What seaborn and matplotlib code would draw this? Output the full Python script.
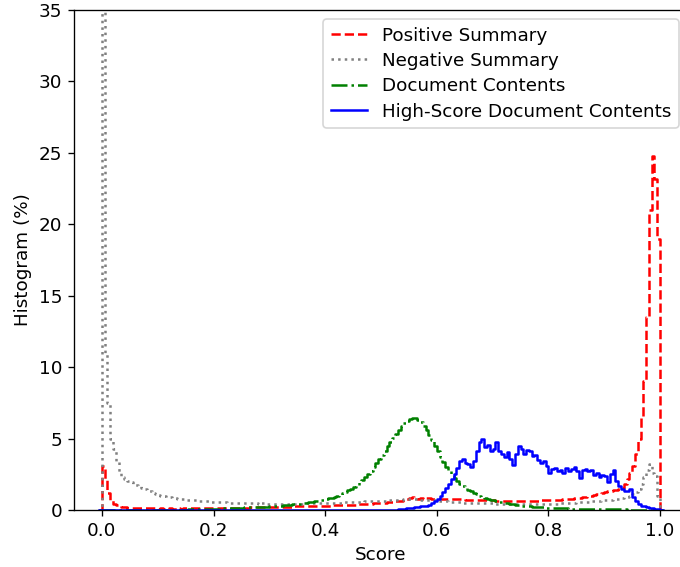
import numpy as np
import pandas as pd
import matplotlib
matplotlib.use("Agg")
import matplotlib.pyplot as plt
import seaborn as sns

# histogram heights (%), one value per 0.005-wide score bin (0.0 -> 1.0)
positive_summary = [
    3.1, 2.1, 1.2, 0.7, 0.45, 0.33, 0.26, 0.22, 0.19, 0.17,
    0.16, 0.15, 0.14, 0.13, 0.13, 0.12, 0.12, 0.11, 0.11, 0.11,
    0.1, 0.11, 0.1, 0.1, 0.11, 0.1, 0.1, 0.11, 0.1, 0.11,
    0.11, 0.11, 0.12, 0.11, 0.12, 0.12, 0.12, 0.13, 0.12, 0.13,
    0.13, 0.13, 0.14, 0.14, 0.14, 0.15, 0.15, 0.15, 0.16, 0.16,
    0.16, 0.17, 0.17, 0.18, 0.18, 0.18, 0.19, 0.19, 0.2, 0.2,
    0.2, 0.21, 0.21, 0.22, 0.22, 0.23, 0.23, 0.24, 0.24, 0.25,
    0.25, 0.26, 0.26, 0.27, 0.27, 0.28, 0.28, 0.29, 0.29, 0.3,
    0.3, 0.31, 0.32, 0.32, 0.33, 0.34, 0.35, 0.35, 0.36, 0.37,
    0.38, 0.39, 0.4, 0.41, 0.42, 0.43, 0.44, 0.46, 0.47, 0.48,
    0.5, 0.52, 0.54, 0.56, 0.58, 0.6, 0.62, 0.64, 0.68, 0.75,
    0.85, 0.88, 0.82, 0.8, 0.82, 0.8, 0.81, 0.82, 0.8, 0.8,
    0.79, 0.8, 0.78, 0.77, 0.78, 0.76, 0.75, 0.76, 0.74, 0.74,
    0.73, 0.72, 0.72, 0.71, 0.7, 0.7, 0.69, 0.69, 0.68, 0.68,
    0.67, 0.66, 0.66, 0.65, 0.65, 0.64, 0.64, 0.63, 0.64, 0.63,
    0.63, 0.63, 0.64, 0.64, 0.65, 0.65, 0.66, 0.67, 0.67, 0.68,
    0.69, 0.7, 0.71, 0.72, 0.73, 0.75, 0.76, 0.78, 0.8, 0.82,
    0.84, 0.87, 0.9, 0.93, 0.97, 1.0, 1.05, 1.1, 1.15, 1.2,
    1.25, 1.3, 1.33, 1.37, 1.4, 1.45, 1.55, 1.8, 2.2, 2.6,
    3.1, 3.9, 5.0, 6.5, 9.0, 13.5, 21.0, 24.8, 23.2, 19.0,
]

negative_summary = [
    45.0, 11.0, 7.5, 5.0, 4.3, 3.4, 2.6, 2.3, 2.15, 2.05,
    1.95, 1.85, 1.75, 1.65, 1.55, 1.5, 1.4, 1.3, 1.2, 1.15,
    1.05, 1.0, 0.95, 0.9, 0.88, 0.85, 0.82, 0.8, 0.78, 0.75,
    0.72, 0.7, 0.7, 0.68, 0.66, 0.64, 0.62, 0.6, 0.6, 0.58,
    0.57, 0.56, 0.55, 0.55, 0.54, 0.52, 0.52, 0.5, 0.5, 0.5,
    0.49, 0.48, 0.5, 0.47, 0.46, 0.46, 0.45, 0.46, 0.44, 0.44,
    0.43, 0.44, 0.43, 0.42, 0.43, 0.42, 0.43, 0.44, 0.43, 0.44,
    0.44, 0.45, 0.45, 0.46, 0.46, 0.47, 0.47, 0.48, 0.48, 0.49,
    0.48, 0.5, 0.5, 0.51, 0.52, 0.52, 0.53, 0.54, 0.55, 0.55,
    0.56, 0.57, 0.58, 0.58, 0.6, 0.6, 0.61, 0.62, 0.63, 0.64,
    0.65, 0.66, 0.68, 0.68, 0.7, 0.7, 0.72, 0.72, 0.74, 0.75,
    0.75, 0.76, 0.74, 0.73, 0.72, 0.71, 0.7, 0.7, 0.68, 0.67,
    0.66, 0.64, 0.62, 0.6, 0.58, 0.57, 0.56, 0.54, 0.53, 0.52,
    0.51, 0.5, 0.5, 0.49, 0.48, 0.48, 0.47, 0.47, 0.46, 0.46,
    0.45, 0.45, 0.45, 0.44, 0.44, 0.44, 0.43, 0.43, 0.43, 0.43,
    0.42, 0.42, 0.42, 0.42, 0.42, 0.42, 0.42, 0.42, 0.43, 0.43,
    0.43, 0.44, 0.44, 0.45, 0.46, 0.47, 0.48, 0.49, 0.5, 0.52,
    0.53, 0.54, 0.56, 0.57, 0.58, 0.6, 0.62, 0.63, 0.65, 0.67,
    0.69, 0.71, 0.73, 0.75, 0.78, 0.8, 0.83, 0.88, 0.93, 1.0,
    1.1, 1.25, 1.5, 1.85, 2.3, 2.8, 3.2, 2.6, 2.35, 1.0,
]

document_contents = [
    0.0, 0.0, 0.0, 0.0, 0.0, 0.0, 0.0, 0.0, 0.0, 0.0,
    0.0, 0.0, 0.0, 0.0, 0.0, 0.0, 0.0, 0.0, 0.0, 0.0,
    0.01, 0.01, 0.01, 0.01, 0.02, 0.02, 0.02, 0.02, 0.03, 0.03,
    0.03, 0.04, 0.04, 0.05, 0.05, 0.06, 0.06, 0.07, 0.08, 0.08,
    0.09, 0.1, 0.1, 0.11, 0.12, 0.12, 0.13, 0.14, 0.15, 0.16,
    0.17, 0.18, 0.18, 0.19, 0.2, 0.2, 0.21, 0.22, 0.23, 0.24,
    0.25, 0.26, 0.28, 0.29, 0.31, 0.33, 0.35, 0.37, 0.39, 0.41,
    0.43, 0.45, 0.48, 0.51, 0.54, 0.57, 0.6, 0.63, 0.67, 0.71,
    0.76, 0.81, 0.87, 0.93, 1.0, 1.08, 1.17, 1.27, 1.38, 1.5,
    1.63, 1.77, 1.93, 2.1, 2.3, 2.52, 2.75, 3.0, 3.27, 3.55,
    3.85, 4.15, 4.45, 4.75, 5.05, 5.35, 5.62, 5.86, 6.06, 6.22,
    6.34, 6.42, 6.42, 6.33, 6.15, 5.9, 5.6, 5.25, 4.88, 4.5,
    4.12, 3.74, 3.38, 3.03, 2.7, 2.45, 2.22, 2.02, 1.85, 1.7,
    1.55, 1.42, 1.3, 1.2, 1.1, 1.01, 0.93, 0.86, 0.79, 0.73,
    0.68, 0.63, 0.58, 0.54, 0.5, 0.46, 0.43, 0.4, 0.37, 0.34,
    0.31, 0.29, 0.27, 0.25, 0.23, 0.22, 0.2, 0.19, 0.18, 0.17,
    0.16, 0.15, 0.14, 0.13, 0.12, 0.12, 0.11, 0.1, 0.1, 0.09,
    0.09, 0.08, 0.08, 0.07, 0.07, 0.07, 0.06, 0.06, 0.06, 0.05,
    0.05, 0.05, 0.05, 0.04, 0.04, 0.04, 0.04, 0.04, 0.03, 0.03,
    0.03, 0.03, 0.03, 0.03, 0.03, 0.02, 0.02, 0.02, 0.02, 0.02,
]

high_score_contents = [
    0.0, 0.0, 0.0, 0.0, 0.0, 0.0, 0.0, 0.0, 0.0, 0.0,
    0.0, 0.0, 0.0, 0.0, 0.0, 0.0, 0.0, 0.0, 0.0, 0.0,
    0.0, 0.0, 0.0, 0.0, 0.0, 0.0, 0.0, 0.0, 0.0, 0.0,
    0.0, 0.0, 0.0, 0.0, 0.0, 0.0, 0.0, 0.0, 0.0, 0.0,
    0.0, 0.0, 0.0, 0.0, 0.0, 0.0, 0.0, 0.0, 0.0, 0.0,
    0.0, 0.0, 0.0, 0.0, 0.0, 0.0, 0.0, 0.0, 0.0, 0.0,
    0.0, 0.0, 0.0, 0.0, 0.0, 0.0, 0.0, 0.0, 0.0, 0.0,
    0.0, 0.0, 0.0, 0.0, 0.0, 0.0, 0.0, 0.0, 0.0, 0.0,
    0.0, 0.0, 0.0, 0.0, 0.0, 0.0, 0.0, 0.0, 0.0, 0.0,
    0.0, 0.0, 0.0, 0.0, 0.0, 0.0, 0.0, 0.0, 0.0, 0.0,
    0.0, 0.0, 0.0, 0.0, 0.0, 0.03, 0.06, 0.08, 0.1, 0.13,
    0.15, 0.17, 0.2, 0.22, 0.25, 0.28, 0.3, 0.38, 0.5, 0.62,
    0.8, 1.0, 1.25, 1.55, 1.85, 2.2, 2.55, 2.95, 3.4, 3.6,
    3.3, 3.2, 3.0, 3.45, 4.1, 4.75, 4.95, 4.4, 4.55, 4.1,
    4.3, 4.75, 4.1, 3.9, 3.7, 4.05, 3.6, 3.15, 3.9, 4.5,
    4.3, 3.95, 4.2, 4.1, 3.75, 3.85, 3.5, 3.3, 3.45, 3.1,
    2.6, 2.9, 2.95, 2.7, 2.8, 2.6, 2.95, 2.75, 2.85, 3.0,
    2.7, 2.25, 2.8, 2.9, 2.7, 2.8, 2.45, 2.6, 2.3, 2.45,
    2.35, 1.95, 2.5, 2.8, 2.0, 1.7, 1.5, 1.35, 1.3, 1.5,
    0.9, 0.6, 0.4, 0.3, 0.25, 0.2, 0.15, 0.12, 0.08, 0.05,
]

series_names = ["Positive Summary", "Negative Summary", "Document Contents",
                "High-Score Document Contents"]
series_values = [positive_summary, negative_summary, document_contents, high_score_contents]
line_colors = ["red", "gray", "green", "blue"]
line_styles = ["--", ":", "-.", "-"]

plt.rcParams["font.size"] = 11

n_bins = len(positive_summary)
bin_width = 1.0 / n_bins
centers = (np.arange(n_bins) + 0.5) * bin_width
# one empty bin on each side so the step outline drops to zero at 0 and 1
edges = np.linspace(-bin_width, 1.0 + bin_width, n_bins + 3).tolist()

fig = plt.figure(figsize=(680 / 120, 567 / 120), dpi=120)
ax = fig.add_axes([0.1088, 0.1005, 0.9029, 0.8818])

for name, vals, col, ls in zip(series_names, series_values, line_colors, line_styles):
    df = pd.DataFrame({"score": centers, "pct": vals})
    sns.histplot(data=df, x="score", weights="pct", bins=edges, stat="count",
                 element="step", fill=False, color=col, linestyle=ls,
                 linewidth=1.5, label=name, ax=ax)

ax.set_xlim(-0.05, 1.05)
ax.set_ylim(0, 35)
ax.set_xticks([0.0, 0.2, 0.4, 0.6, 0.8, 1.0])
ax.set_yticks([0, 5, 10, 15, 20, 25, 30, 35])
ax.set_xlabel("Score")
ax.set_ylabel("Histogram (%)")
ax.legend(loc="upper right", labelspacing=0.4)

fig.savefig("out.png", dpi=120)
